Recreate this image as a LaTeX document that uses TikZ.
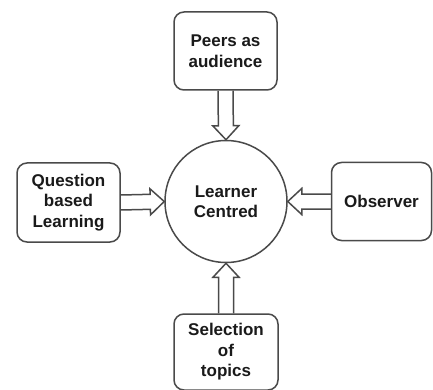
\documentclass[tikz,border=0pt]{standalone}
\usepackage{fontspec}
\setmainfont{Liberation Sans}
\usetikzlibrary{calc}
\definecolor{linec}{HTML}{4A4A4A}
\definecolor{textc}{HTML}{1A1A1A}
\tikzset{
  box/.style={draw=linec, line width=1.5pt, rounded corners=10pt, align=center,
    inner sep=0pt, text=textc, font=\fontsize{17}{20.5}\selectfont\bfseries},
  hub/.style={draw=linec, line width=1.5pt, circle, minimum size=122pt, inner sep=0pt,
    align=center, text=textc, font=\fontsize{17}{20.5}\selectfont\bfseries},
  hollow/.style={draw=linec, line width=1.5pt, line join=miter, to path={
    ($(\tikztostart)!7.5pt!90:(\tikztotarget)$) --
    ($($(\tikztotarget)!14pt!(\tikztostart)$)!7.5pt!90:(\tikztotarget)$) --
    ($($(\tikztotarget)!14pt!(\tikztostart)$)!13pt!90:(\tikztotarget)$) --
    (\tikztotarget) --
    ($($(\tikztotarget)!14pt!(\tikztostart)$)!13pt!-90:(\tikztotarget)$) --
    ($($(\tikztotarget)!14pt!(\tikztostart)$)!7.5pt!-90:(\tikztotarget)$) --
    ($(\tikztostart)!7.5pt!-90:(\tikztotarget)$)
  }}
}
\begin{document}
\begin{tikzpicture}[x=1pt,y=-1pt]
\useasboundingbox[fill=white] (0,0) rectangle (433,390);
\node[hub] (c) at (226,201.5) {Learner\\Centred};
\node[box, minimum width=103pt, minimum height=78pt] (top) at (225.5,51) {Peers as\\audience};
\node[box, minimum width=103pt, minimum height=79pt] (qbl) at (68.5,202.5) {Question\\based\\Learning};
\node[box, minimum width=100pt, minimum height=78pt] (obs) at (381.5,201.5) {Observer};
\node[box, minimum width=104pt, minimum height=76pt] (sel) at (226,352) {Selection\\of\\topics};
\draw[hollow] (top.south) to (c.north);
\draw[hollow] (qbl.east) to (c.west);
\draw[hollow] (obs.west) to (c.east);
\draw[hollow] (sel.north) to (c.south);
\end{tikzpicture}
\end{document}
